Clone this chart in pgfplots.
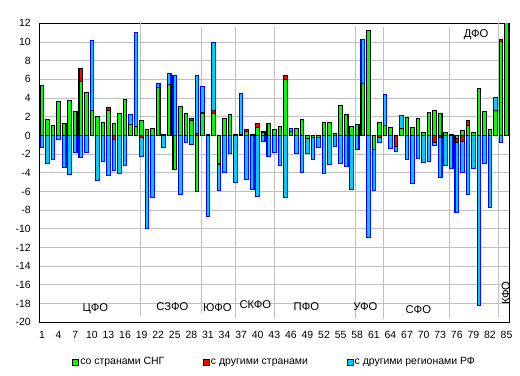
\documentclass[border=0pt]{standalone}
\usepackage{fontspec}
\setmainfont{Liberation Sans}
\usepackage{pgfplots}
\usepackage{pgfplotstable}
\pgfplotsset{compat=1.18}
\definecolor{gfill}{RGB}{0,255,0}
\definecolor{rfill}{RGB}{255,0,0}
\definecolor{bfill}{RGB}{0,204,255}
\definecolor{bline}{RGB}{0,0,255}
\definecolor{gridc}{RGB}{192,192,192}

% i = region number, g = CIS countries, r = other countries, b = other regions of RF
\pgfplotstableread{
i g r b
1 5.30 0 -1.28
2 1.71 0 -3.00
3 1.03 0 -2.57
4 3.62 0 -0.42
5 1.23 0 -3.42
6 3.73 0 -4.17
7 2.53 0 -1.81
8 5.77 1.39 -2.35
9 4.60 0 -1.81
10 2.62 0 7.57
11 1.98 0 -4.81
12 1.38 0 -2.78
13 2.65 0.33 -4.28
14 1.27 -0.43 -3.32
15 2.32 0 -4.06
16 3.86 0 -3.20
17 1.20 0 1.05
18 0.95 0 10.09
19 1.62 -0.21 -2.00
20 0.66 0 -9.95
21 0.77 0 -6.63
22 5.14 0 0.43
23 0.08 0 -1.28
24 5.43 0 1.21
25 -3.65 0 6.43
26 3.11 0 -6.31
27 2.39 0 -0.76
28 1.64 0.21 -0.96
29 -6.03 0.21 6.22
30 2.40 0 2.85
31 0.08 0 -8.70
32 2.36 0.30 7.30
33 -3.06 0 -2.82
34 1.80 0 -4.00
35 2.23 0 -1.92
36 0.08 0 -5.05
37 0.12 0 4.38
38 0.42 0.21 -4.71
39 0.08 0 -5.78
40 0.86 0.43 -6.57
41 0.37 0 -0.65
42 1.27 0 -2.27
43 0.64 0 -1.84
44 0.93 0 -3.22
45 5.98 0.44 -6.65
46 0.43 0 0.33
47 0.73 0 -1.95
48 1.68 0 -3.97
49 -0.36 0 -1.57
50 -0.22 0 -2.35
51 -0.25 0 -1.04
52 1.41 0 -4.07
53 1.41 0 -3.10
54 0.19 0 -1.21
55 3.17 0 -3.02
56 2.23 0 -3.30
57 0.93 0 -5.78
58 1.18 0 -1.50
59 5.57 0 4.72
60 11.20 0 -10.92
61 -1.50 0 -4.39
62 1.37 -0.21 -0.54
63 1.05 0 3.37
64 0.84 0 -1.37
65 0 -1.14 -0.54
66 0.71 0 1.43
67 1.89 0 -2.56
68 0.82 0 -5.13
69 1.80 0 -2.46
70 0.30 0 -2.87
71 2.44 0 -2.80
72 2.68 -0.79 -0.28
73 2.34 -0.21 -4.27
74 0.30 0 -3.19
75 0.08 0 -3.50
76 -0.35 -0.40 -7.48
77 0.55 -0.61 -3.35
78 1.05 0.59 -6.31
79 0.30 0 -3.55
80 5.02 0 -18.20
81 2.59 0 -3.00
82 0.66 0 -7.70
83 2.66 0 1.41
84 10.05 0.20 -0.75
85 13.00 0 0
}\data

\pgfplotsset{
  barbase/.style={line width=1.1bp, forget plot},
  gbar/.style={barbase, fill=gfill, draw=black},
  rbar/.style={barbase, fill=rfill, draw=black},
  bbar/.style={barbase, fill=bfill, draw=bline},
  dline/.style={sharp plot, gridc, line width=0.9bp, forget plot, no markers},
}

\begin{document}
\begin{tikzpicture}
\path[use as bounding box] (0,0) rectangle (520bp,376bp);
\begin{axis}[
  at={(39.3bp,53.7bp)}, anchor=south west,
  scale only axis, width=470bp, height=299bp,
  ybar, bar width=0.64, bar shift=0pt,
  every axis plot/.append style={bar shift=0pt},
  xmin=0.5, xmax=85.5, ymin=-20, ymax=12,
  xtick={1,4,...,85}, ytick={-20,-18,...,12},
  ymajorgrids, major grid style={gridc, line width=0.9bp},
  major tick length=0pt,
  axis line style={black, line width=1bp},
  tick label style={font=\fontsize{10.5}{12}\selectfont},
  xticklabel style={yshift=-5.5bp},
  yticklabel style={xshift=-5bp},
  /pgf/number format/assume math mode=true,
  legend columns=3,
  legend style={at={(0.5,-0.1330)}, anchor=center, draw=none, fill=none,
    font=\fontsize{10.5}{12}\selectfont, nodes={inner sep=1.5bp},
    /tikz/every even column/.append style={column sep=37bp}},
  legend image code/.code={\draw[#1] (0bp,-3bp) rectangle (6bp,3bp);},
]
% district separators
\addplot[dline] coordinates {(18.83,12) (18.83,-19.3)};
\addplot[dline] coordinates {(29.9,11.6) (29.9,-19.0)};
\addplot[dline] coordinates {(36.0,11.6) (36.0,-19.5)};
\addplot[dline] coordinates {(43.06,11.6) (43.06,-19.65)};
\addplot[dline] coordinates {(57.7,11.6) (57.7,-19.65)};
\addplot[dline] coordinates {(62.66,11.6) (62.66,-19.65)};
\addplot[dline] coordinates {(74.7,11.6) (74.7,-19.5)};
\addplot[dline] coordinates {(83.46,12) (83.46,-19.4)};

% negative parts
\addplot[bbar] table[x=i, y expr={min(\thisrow{g},0)+min(\thisrow{r},0)+min(\thisrow{b},0)}] {\data};
\addplot[rbar] table[x=i, y expr={min(\thisrow{g},0)+min(\thisrow{r},0)}] {\data};
\addplot[gbar] table[x=i, y expr={min(\thisrow{g},0)}] {\data};
% positive parts
\addplot[bbar] table[x=i, y expr={max(\thisrow{g},0)+max(\thisrow{r},0)+max(\thisrow{b},0)}] {\data};
\addplot[rbar] table[x=i, y expr={max(\thisrow{g},0)+max(\thisrow{r},0)}] {\data};
\addplot[gbar] table[x=i, y expr={max(\thisrow{g},0)}] {\data};

\addlegendimage{fill=gfill, draw=black, line width=0.6bp}
\addlegendentry{со странами СНГ}
\addlegendimage{fill=rfill, draw=black, line width=0.6bp}
\addlegendentry{с другими странами}
\addlegendimage{fill=bfill, draw=bline, line width=0.6bp}
\addlegendentry{с другими регионами РФ}

\begin{scope}[every node/.style={font=\fontsize{11.3}{13}\selectfont, inner sep=0pt}]
\node at (axis cs:10.64,-18.59) {ЦФО};
\node at (axis cs:24.56,-18.27) {СЗФО};
\node at (axis cs:32.7,-18.48) {ЮФО};
\node at (axis cs:39.57,-18.16) {СКФО};
\node at (axis cs:48.8,-18.27) {ПФО};
\node at (axis cs:59.46,-18.37) {УФО};
\node at (axis cs:69.05,-18.59) {СФО};
\node at (axis cs:79.5,10.75) {ДФО};
\node[rotate=90] at (axis cs:84.87,-16.87) {КФО};
\end{scope}
\node[font=\fontsize{12}{14}\selectfont\itshape, inner sep=0pt] at (rel axis cs:0.129,1.0245) {На 1000 человек};
\end{axis}
\end{tikzpicture}
\end{document}
